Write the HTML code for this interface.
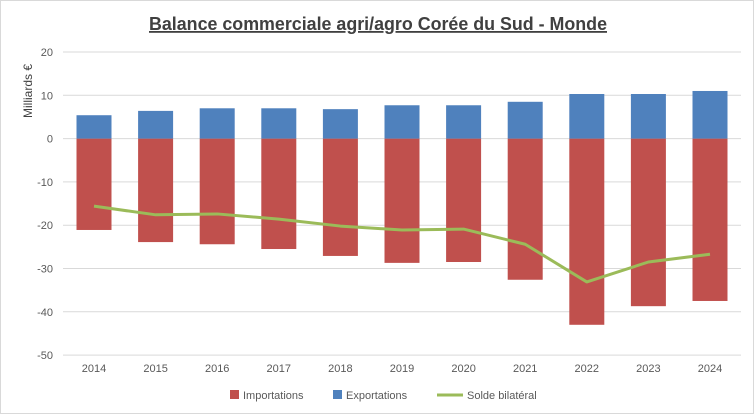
<!DOCTYPE html>
<html><head><meta charset="utf-8"><style>
body{margin:0;background:#fff;font-family:"Liberation Sans",Arial,sans-serif}
#c{position:absolute;left:0;top:0;width:752px;height:412px;border:1px solid #d9d9d9;background:#fff}
</style></head><body>
<div id="c">
<svg id="s" width="754" height="414"></svg>
</div>
<script>
const years=["2014","2015","2016","2017","2018","2019","2020","2021","2022","2023","2024"];
const exportsV=[5.4,6.4,7.0,7.0,6.8,7.7,7.7,8.5,10.3,10.3,11.0];
const importsV=[-21.1,-23.9,-24.4,-25.5,-27.1,-28.7,-28.5,-32.6,-43.0,-38.7,-37.5];
const soldeV=[-15.6,-17.6,-17.4,-18.6,-20.2,-21.1,-20.9,-24.4,-33.1,-28.5,-26.7];
const yTicks=[20,10,0,-10,-20,-30,-40,-50];
const NS="http://www.w3.org/2000/svg";
const s=document.getElementById('s');
function y(v){return 137.6-(v)*4.33;}
function x(i){return 93+i*61.6;}
function el(t,a,p){const e=document.createElementNS(NS,t);for(const k in a)e.setAttribute(k,a[k]);(p||s).appendChild(e);return e;}
let t=el('text',{x:148,y:29,'font-size':18,'font-weight':'bold',fill:'#404040','text-decoration':'underline',textLength:458,lengthAdjust:'spacingAndGlyphs'});
t.textContent="Balance commerciale agri/agro Corée du Sud - Monde";


yTicks.forEach(v=>{
 const g=el('line',{x1:62,x2:740,y1:y(v),y2:y(v),stroke:'#d9d9d9','stroke-width':1});
 
 
 const l=el('text',{x:52,y:y(v)+4,'text-anchor':'end','font-size':11,fill:'#595959'});
 l.textContent=v;
 
 
});
let yt=el('text',{x:0,y:0,transform:'translate(31,90) rotate(-90)','text-anchor':'middle','font-size':12,fill:'#404040'});
yt.textContent="Milliards €";


const bw=35;
years.forEach((yr,i)=>{
 const b1=el('rect',{x:x(i)-bw/2,y:y(0),width:bw,height:y(importsV[i])-y(0),fill:'#c0504d'});
 
 
 const b2=el('rect',{x:x(i)-bw/2,y:y(exportsV[i]),width:bw,height:y(0)-y(exportsV[i]),fill:'#4f81bd'});
 
 
 const l=el('text',{x:x(i),y:371,'text-anchor':'middle','font-size':11,fill:'#595959'});
 l.textContent=yr;
 
 
});
const ln=el('polyline',{points:soldeV.map((v,i)=>x(i)+','+y(v)).join(' '),fill:'none',stroke:'#9bbb59','stroke-width':3,'stroke-linejoin':'round'});


const lg=el('g',{});


let r=el('rect',{x:229,y:389,width:9,height:9,fill:'#c0504d'},lg);


let tt=el('text',{x:242,y:398,'font-size':11,fill:'#595959'},lg);tt.textContent="Importations";


r=el('rect',{x:332,y:389,width:9,height:9,fill:'#4f81bd'},lg);


tt=el('text',{x:345,y:398,'font-size':11,fill:'#595959'},lg);tt.textContent="Exportations";


r=el('line',{x1:436,x2:462,y1:394,y2:394,stroke:'#9bbb59','stroke-width':3},lg);


tt=el('text',{x:466,y:398,'font-size':11,fill:'#595959'},lg);tt.textContent="Solde bilatéral";


</script>
</body></html>
